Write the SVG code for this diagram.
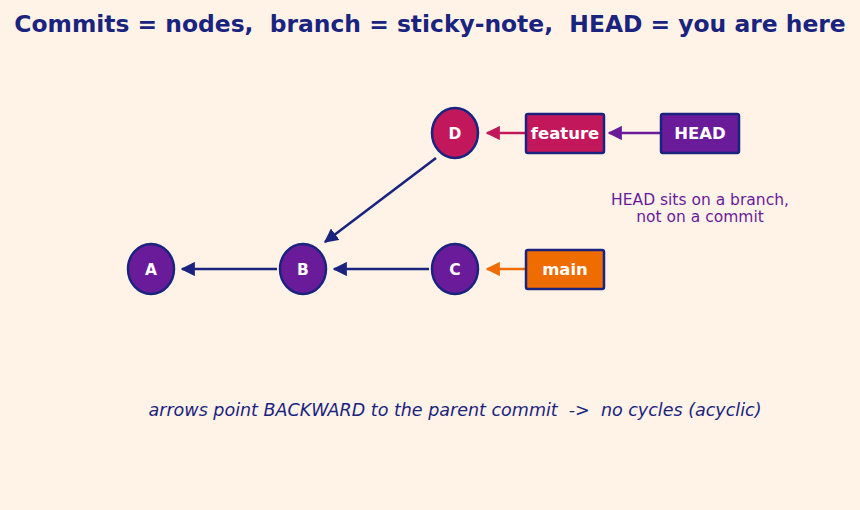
<svg xmlns="http://www.w3.org/2000/svg" width="860" height="510" viewBox="0 0 860 510">
<defs>
<marker id="ah-navy" viewBox="0 0 10 10" refX="9" refY="5" markerWidth="5.5" markerHeight="5.5" orient="auto"><path d="M0,0 L10,5 L0,10 z" fill="#1a237e"/></marker>
<marker id="ah-pink" viewBox="0 0 10 10" refX="9" refY="5" markerWidth="5.5" markerHeight="5.5" orient="auto"><path d="M0,0 L10,5 L0,10 z" fill="#c2185b"/></marker>
<marker id="ah-purple" viewBox="0 0 10 10" refX="9" refY="5" markerWidth="5.5" markerHeight="5.5" orient="auto"><path d="M0,0 L10,5 L0,10 z" fill="#6a1b9a"/></marker>
<marker id="ah-orange" viewBox="0 0 10 10" refX="9" refY="5" markerWidth="5.5" markerHeight="5.5" orient="auto"><path d="M0,0 L10,5 L0,10 z" fill="#ef6c00"/></marker>
</defs>
<style>
text{white-space:pre}
.node{stroke:#1a237e;stroke-width:2.5}
.lbl{font-family:"DejaVu Sans",sans-serif;font-weight:bold;fill:#ffffff;text-anchor:middle}
.edge{fill:none;stroke-width:2.6}
</style>
<rect width="860" height="510" fill="#fff3e8"/>
<text x="430" y="32" font-family="DejaVu Sans, sans-serif" font-weight="bold" font-size="23.4" fill="#1a237e" text-anchor="middle" xml:space="preserve">Commits = nodes,  branch = sticky-note,  HEAD = you are here</text>
<g id="connectors">
<line class="edge" x1="429" y1="269" x2="334" y2="269" stroke="#1a237e" marker-end="url(#ah-navy)"/>
<line class="edge" x1="277" y1="269" x2="182" y2="269" stroke="#1a237e" marker-end="url(#ah-navy)"/>
<line class="edge" x1="436" y1="158" x2="325" y2="242" stroke="#1a237e" marker-end="url(#ah-navy)"/>
<line class="edge" x1="526" y1="133" x2="487" y2="133" stroke="#c2185b" marker-end="url(#ah-pink)"/>
<line class="edge" x1="661" y1="133" x2="609" y2="133" stroke="#6a1b9a" marker-end="url(#ah-purple)"/>
<line class="edge" x1="526" y1="269" x2="487" y2="269" stroke="#ef6c00" marker-end="url(#ah-orange)"/>
</g>
<g id="node-A"><ellipse class="node" cx="151" cy="269" rx="23" ry="25" fill="#6a1b9a"/><text class="lbl" x="151" y="275" font-size="15.5">A</text></g>
<g id="node-B"><ellipse class="node" cx="303" cy="269" rx="23" ry="25" fill="#6a1b9a"/><text class="lbl" x="303" y="275" font-size="15.5">B</text></g>
<g id="node-C"><ellipse class="node" cx="455" cy="269" rx="23" ry="25" fill="#6a1b9a"/><text class="lbl" x="455" y="275" font-size="15.5">C</text></g>
<g id="node-D"><ellipse class="node" cx="455" cy="133" rx="23" ry="25" fill="#c2185b"/><text class="lbl" x="455" y="139" font-size="15.5">D</text></g>
<g id="node-feature"><rect class="node" x="526" y="114" width="78" height="39" rx="2" fill="#c2185b"/><text class="lbl" x="565" y="139" font-size="16.5">feature</text></g>
<g id="node-HEAD"><rect class="node" x="661" y="114" width="78" height="39" rx="2" fill="#6a1b9a"/><text class="lbl" x="700" y="139" font-size="16.5">HEAD</text></g>
<g id="node-main"><rect class="node" x="526" y="250" width="78" height="39" rx="2" fill="#ef6c00"/><text class="lbl" x="565" y="275" font-size="16.5">main</text></g>
<g id="note">
<text x="700" y="205" font-family="DejaVu Sans, sans-serif" font-size="15.5" fill="#6a1b9a" text-anchor="middle">HEAD sits on a branch,</text>
<text x="700" y="222" font-family="DejaVu Sans, sans-serif" font-size="15.5" fill="#6a1b9a" text-anchor="middle">not on a commit</text>
</g>
<text x="455" y="416" font-family="DejaVu Sans, sans-serif" font-style="italic" font-size="17.5" fill="#1a237e" text-anchor="middle" xml:space="preserve">arrows point BACKWARD to the parent commit  -&gt;  no cycles (acyclic)</text>
</svg>
